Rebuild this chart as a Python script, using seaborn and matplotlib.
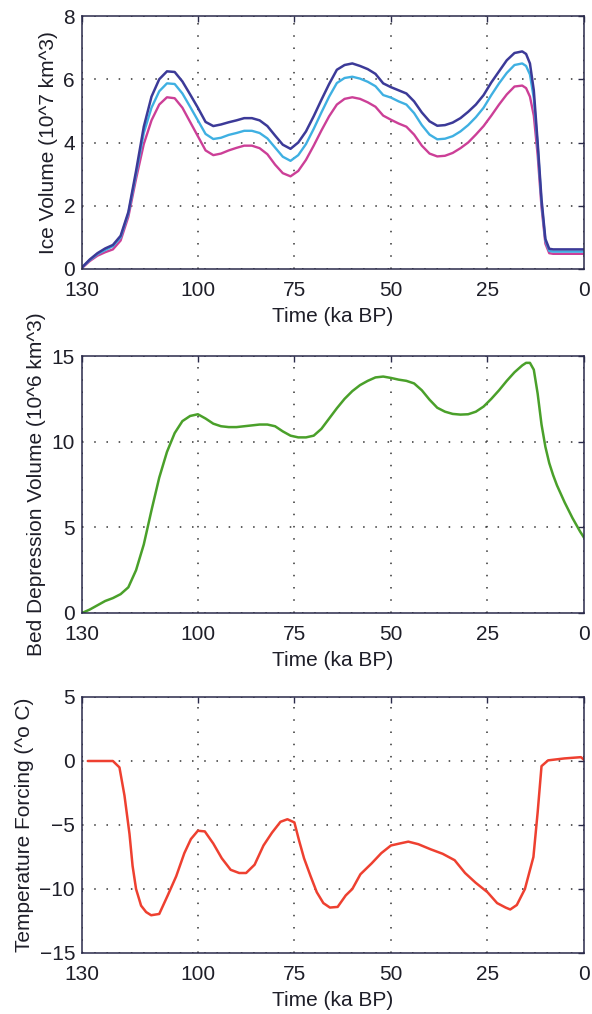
import numpy as np
import pandas as pd
import matplotlib
matplotlib.use("Agg")
import matplotlib.pyplot as plt
import seaborn as sns

# --- ice volume (10^7 km^3), three runs on a shared time axis ---
t_ice = [130, 128, 126, 124, 122, 120, 118, 116, 114, 112, 110, 108, 106, 104,
         102, 100, 98, 96, 94, 92, 90, 88, 86, 84, 82, 80, 78, 76, 74, 72, 70,
         68, 66, 64, 62, 60, 58, 56, 54, 52, 50, 48, 46, 44, 42, 40, 38, 36,
         34, 32, 30, 28, 26, 24, 22, 20, 18, 16, 15, 14, 13, 12, 11, 10, 9, 8, 0]
ice_high = [0.05, 0.3, 0.5, 0.65, 0.76, 1.05, 1.8, 3.1, 4.5, 5.45, 6.0, 6.25, 6.23,
            5.93, 5.52, 5.1, 4.65, 4.52, 4.57, 4.64, 4.7, 4.77, 4.77, 4.7, 4.52,
            4.22, 3.93, 3.8, 4.0, 4.35, 4.83, 5.35, 5.85, 6.3, 6.45, 6.5, 6.42,
            6.32, 6.17, 5.87, 5.75, 5.65, 5.55, 5.3, 4.95, 4.67, 4.53, 4.55, 4.63,
            4.77, 4.97, 5.2, 5.5, 5.9, 6.25, 6.6, 6.83, 6.88, 6.8, 6.5, 5.65, 4.0,
            2.2, 0.95, 0.64, 0.62, 0.62]
ice_mid = [0.05, 0.28, 0.47, 0.6, 0.72, 1.0, 1.75, 3.0, 4.3, 5.1, 5.62, 5.87, 5.85,
           5.55, 5.13, 4.7, 4.27, 4.11, 4.15, 4.24, 4.3, 4.37, 4.37, 4.3, 4.13,
           3.84, 3.55, 3.42, 3.6, 3.95, 4.43, 4.95, 5.45, 5.88, 6.04, 6.08, 6.02,
           5.92, 5.78, 5.5, 5.42, 5.3, 5.2, 4.93, 4.55, 4.25, 4.1, 4.12, 4.2,
           4.35, 4.55, 4.8, 5.1, 5.5, 5.87, 6.2, 6.45, 6.5, 6.42, 6.15, 5.4, 3.9,
           2.1, 0.9, 0.57, 0.55, 0.55]
ice_low = [0.03, 0.25, 0.42, 0.53, 0.62, 0.9, 1.65, 2.85, 3.95, 4.7, 5.2, 5.43, 5.4,
           5.1, 4.65, 4.2, 3.75, 3.6, 3.65, 3.75, 3.83, 3.9, 3.9, 3.82, 3.63,
           3.3, 3.03, 2.93, 3.1, 3.45, 3.9, 4.38, 4.83, 5.2, 5.38, 5.43, 5.38,
           5.27, 5.13, 4.85, 4.72, 4.6, 4.5, 4.25, 3.9, 3.65, 3.56, 3.58, 3.67,
           3.82, 4.0, 4.25, 4.52, 4.85, 5.2, 5.52, 5.77, 5.8, 5.72, 5.45, 4.85, 3.6,
           1.95, 0.8, 0.5, 0.48, 0.48]

# --- bed depression volume (10^6 km^3) ---
t_bed = [130, 128, 126, 124, 122, 120, 118, 116, 114, 112, 110, 108, 106, 104,
         102, 100, 98, 96, 94, 92, 90, 88, 86, 84, 82, 80, 78, 76, 74, 72, 70,
         68, 66, 64, 62, 60, 58, 56, 54, 52, 50, 48, 46, 44, 42, 40, 38, 36,
         34, 32, 30, 28, 26, 24, 22, 20, 18, 16, 15, 14, 13, 12, 11, 10, 9, 8,
         7, 6, 5, 4, 3, 2, 1, 0]
bed = [0.0, 0.2, 0.45, 0.7, 0.87, 1.1, 1.5, 2.5, 4.0, 6.0, 7.9, 9.4, 10.5, 11.2,
       11.5, 11.6, 11.35, 11.05, 10.9, 10.85, 10.85, 10.9, 10.95, 11.0, 11.0,
       10.9, 10.6, 10.35, 10.25, 10.25, 10.35, 10.75, 11.35, 11.95, 12.5, 12.95,
       13.3, 13.55, 13.75, 13.8, 13.72, 13.62, 13.55, 13.4, 13.0, 12.45, 11.98,
       11.75, 11.62, 11.58, 11.6, 11.75, 12.05, 12.5, 13.0, 13.55, 14.05, 14.45,
       14.6, 14.6, 14.2, 12.8, 11.0, 9.7, 8.75, 8.05, 7.45, 6.95, 6.45, 6.0,
       5.55, 5.15, 4.75, 4.4]

# --- temperature forcing (deg C) ---
t_temp = [128.5, 122, 120.3, 119, 117.7, 116.9, 116, 114.7, 113.4, 112.1, 110,
          107.8, 105.6, 103.5, 101.8, 100, 98.2, 96, 93.8, 91.5, 89.3, 87.5,
          85.3, 83, 80.8, 78.6, 76.8, 75, 73.8, 72.5, 70.8, 69.2, 67.5, 65.8,
          63.8, 61.7, 60, 57.9, 55, 52.5, 50, 47.8, 45.5, 42.9, 39.7, 36.6, 33.5,
          30.8, 28.1, 25, 22.5, 20.3, 19.1, 17.4, 15.3, 13.1, 12, 11, 9.3, 5.1,
          0.8, 0]
temp = [0, 0, -0.5, -2.7, -5.7, -8.2, -10, -11.3, -11.8, -12.05, -11.95, -10.5,
        -9.0, -7.2, -6.1, -5.45, -5.5, -6.45, -7.6, -8.5, -8.75, -8.75, -8.1,
        -6.6, -5.6, -4.75, -4.55, -4.8, -6.2, -7.6, -9.0, -10.25, -11.1, -11.45,
        -11.4, -10.5, -10, -8.85, -8.0, -7.2, -6.6, -6.45, -6.3, -6.5, -6.9,
        -7.25, -7.75, -8.75, -9.5, -10.25, -11.1, -11.45, -11.6, -11.25, -10.0,
        -7.5, -4.0, -0.4, 0.05, 0.2, 0.3, 0.1]

x_ticks = [130, 100, 75, 50, 25, 0]

sns.set_style("white")
plt.rcParams['font.family'] = ['Liberation Sans', 'DejaVu Sans']
plt.rcParams['font.size'] = 15

frame = '#2a2a4a'
txt = '#1e1e28'

fig = plt.figure(figsize=(5.92, 10.14), dpi=100)
left, width = 82 / 592, 502 / 592
pos = [(1 - 269 / 1014, 253 / 1014), (1 - 613 / 1014, 257 / 1014), (1 - 953 / 1014, 256 / 1014)]
axes = [fig.add_axes([left, b, width, h]) for b, h in pos]


def style_axis(ax, ylim, yticks, ylabel):
    ax.set_xlim(130, 0)
    ax.set_ylim(*ylim)
    ax.set_xticks(x_ticks)
    ax.set_yticks(yticks)
    ax.grid(True, color='#333333', linestyle=(0, (1, 7)), linewidth=1.1)
    ax.tick_params(direction='in', top=True, right=True, length=4, width=1,
                   color=frame, labelcolor=txt, labelsize=15)
    ax.tick_params(axis='x', pad=9)
    ax.tick_params(axis='y', pad=5)
    for s in ax.spines.values():
        s.set_color(frame)
        s.set_linewidth(1.1)
        s.set_visible(True)
    ax.set_xlabel('Time (ka BP)', color=txt, fontsize=15, labelpad=5)
    ax.set_ylabel(ylabel, color=txt, fontsize=15, labelpad=4)


ax = axes[0]
ice = pd.DataFrame({'t': t_ice, 'high': ice_high, 'mid': ice_mid, 'low': ice_low})
sns.lineplot(data=ice, x='t', y='low', ax=ax, color='#cc3f97', lw=1.7)
sns.lineplot(data=ice, x='t', y='mid', ax=ax, color='#3fb0e2', lw=1.7)
sns.lineplot(data=ice, x='t', y='high', ax=ax, color='#3c3a98', lw=1.8)
style_axis(ax, (0, 8), [0, 2, 4, 6, 8], 'Ice Volume (10^7 km^3)')

ax = axes[1]
sns.lineplot(x=t_bed, y=bed, ax=ax, color='#4aa02a', lw=1.8)
style_axis(ax, (0, 15), [0, 5, 10, 15], 'Bed Depression Volume (10^6 km^3)')

ax = axes[2]
sns.lineplot(x=t_temp, y=temp, ax=ax, color='#ee4030', lw=1.8)
style_axis(ax, (-15, 5), [-15, -10, -5, 0, 5], 'Temperature Forcing (^o C)')

fig.savefig('out.png', dpi=100, facecolor='white')
